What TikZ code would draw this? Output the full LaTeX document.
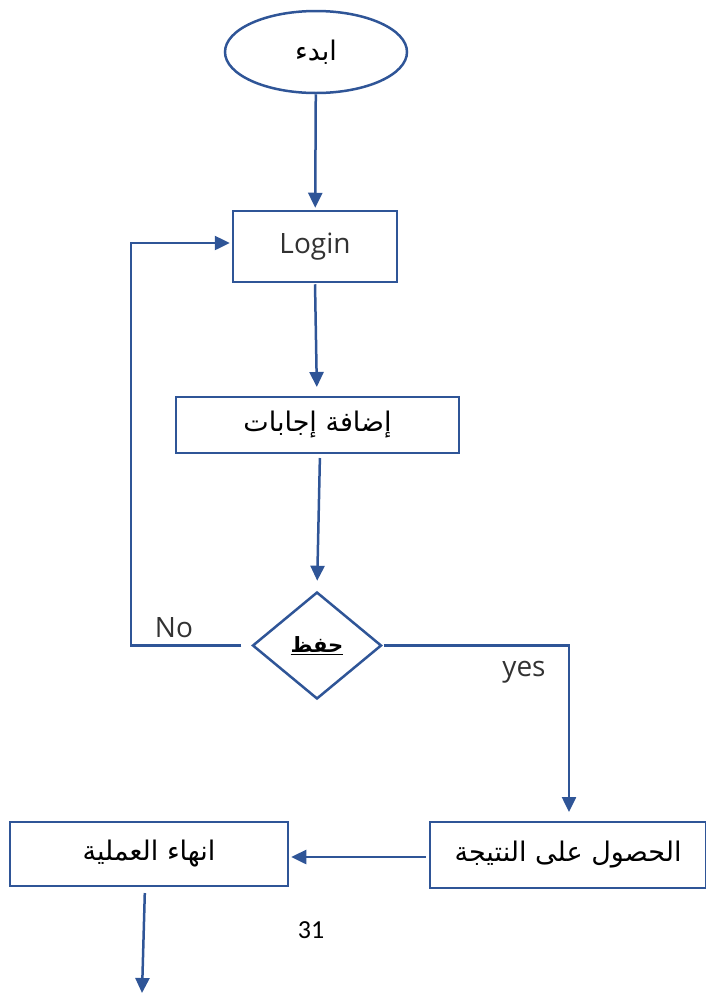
\documentclass[tikz,border=0pt]{standalone}
\usepackage{fontspec}
\setmainfont{Open Sans}
\newfontfamily\arabicfont[Script=Arabic]{DejaVu Sans}
\newfontfamily\numfont{Carlito}
\TeXXeTstate=1
\usetikzlibrary{shapes.geometric,arrows.meta}
\definecolor{flowblue}{RGB}{47,85,151}
\definecolor{labelgray}{RGB}{50,50,50}
\tikzset{
  box/.style={draw=flowblue, line width=2.5pt, inner sep=0pt},
  flow/.style={draw=flowblue, line width=2.5pt, -{Triangle[width=14pt,length=15pt]}},
  line/.style={draw=flowblue, line width=2.5pt},
  ar/.style={font=\arabicfont\fontsize{27}{32}\selectfont},
  lbl/.style={font=\fontsize{28}{33}\selectfont, text=labelgray}
}
\begin{document}
\begin{tikzpicture}[x=1pt,y=-1pt]
\useasboundingbox (0,0) rectangle (706,994);

\node[box, ellipse, minimum width=182pt, minimum height=82pt, ar] (start) at (316,52) {\beginR ابدء\endR};
\node[box, minimum width=164pt, minimum height=71pt, lbl] (login) at (315,246.5) {Login};
\node[box, minimum width=283pt, minimum height=56pt, ar] (add) at (317.5,425) {\beginR إضافة إجابات\endR};
\node[box, diamond, minimum width=129pt, minimum height=107pt, font=\arabicfont\fontsize{21}{25}\selectfont] (save) at (317,645.5) {\beginR\textbf{\underline{حفظ}}\endR};
\node[box, minimum width=276pt, minimum height=66pt, ar] (result) at (568,855) {\beginR الحصول على النتيجة\endR};
\node[box, minimum width=278pt, minimum height=64pt, ar] (finish) at (149,854) {\beginR انهاء العملية\endR};
\coordinate (out) at (142,993);

\draw[flow, shorten >=2pt] (start) -- (login);
\draw[flow, shorten <=1pt, shorten >=10pt] (login.south) -- (317,397);
\draw[flow, shorten <=5pt, shorten >=10pt] (320,453) -- (save.north);

% no
\draw[flow, shorten <=10pt, shorten >=2pt] (save.west) -- (131,645.5) -- (131,243) -- (login.west |- 0,243);
\node[lbl] (no) at (174,628) {No};

% yes
\draw[flow, shorten <=1pt, shorten >=10pt] (save.east) -- (569,645.5) -- (569,822);
\node[lbl] (yes) at (524,672) {yes};

\draw[flow, shorten <=3pt, shorten >=2pt] (result.west |- 0,857) -- (finish.east |- 0,857);
\draw[flow, shorten <=7pt] (145,886) -- (out);

\node[font=\numfont\fontsize{26}{31}\selectfont] (page) at (311,930) {31};
\end{tikzpicture}
\end{document}
